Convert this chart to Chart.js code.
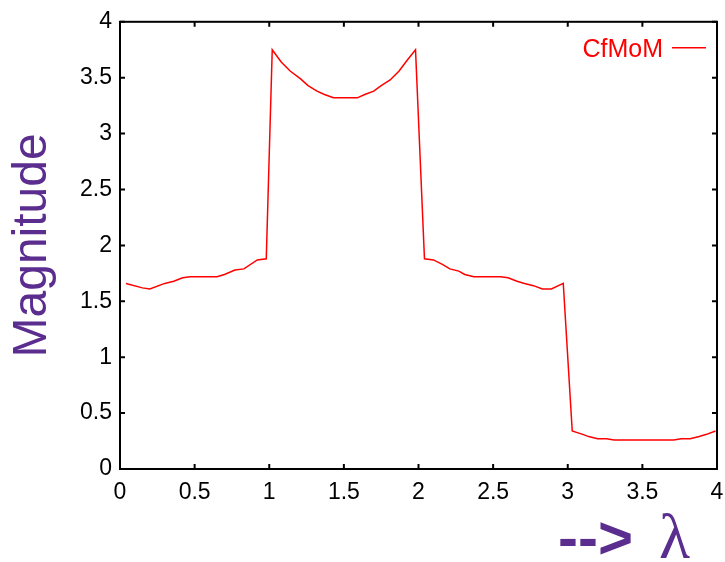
<!DOCTYPE html>
<html>
<head>
<meta charset="utf-8">
<script src="https://cdn.jsdelivr.net/npm/chart.js@4/dist/chart.umd.min.js"></script>
<style>
  html, body { margin: 0; padding: 0; background: #fff; }
  #wrap { width: 725px; height: 562px; }
</style>
</head>
<body>
<div id="wrap"><canvas id="grafico"></canvas></div>
<script>
// datos
const lambdaVals = [
    0.04, 0.15, 0.20, 0.30, 0.36, 0.42, 0.47, 0.65, 0.70, 0.77, 0.83, 0.92, 0.98,
    1.02, 1.08, 1.14, 1.21, 1.26, 1.32, 1.37, 1.43, 1.59, 1.64, 1.70, 1.75, 1.81, 1.87, 1.92, 1.98,
    2.04, 2.10, 2.16, 2.21, 2.27, 2.31, 2.37, 2.55, 2.60, 2.66, 2.71, 2.77, 2.83, 2.89, 2.97,
    3.03, 3.10, 3.14, 3.20, 3.26, 3.31, 3.71, 3.76, 3.82, 3.88, 3.93, 3.99
];
const magnitudes = [
    1.66, 1.62, 1.61, 1.66, 1.68, 1.71, 1.72, 1.72, 1.74, 1.78, 1.79, 1.87, 1.88,
    3.75, 3.64, 3.56, 3.49, 3.43, 3.38, 3.35, 3.32, 3.32, 3.35, 3.38, 3.43, 3.48, 3.56, 3.65, 3.75,
    1.88, 1.87, 1.83, 1.79, 1.77, 1.74, 1.72, 1.72, 1.71, 1.68, 1.66, 1.64, 1.61, 1.61, 1.66,
    0.34, 0.31, 0.29, 0.27, 0.27, 0.26, 0.26, 0.27, 0.27, 0.29, 0.31, 0.34
];
const xTicks = [0, 0.5, 1, 1.5, 2, 2.5, 3, 3.5, 4];
const yTicks = [0, 0.5, 1, 1.5, 2, 2.5, 3, 3.5, 4];
const serieNombre = 'CfMoM';
const flechaX = '-->';
const letraX = '\u03bb';
const tituloY = 'Magnitude';

const puntos = lambdaVals.map((x, i) => ({ x: x, y: magnitudes[i] }));
const fuente = "'Liberation Sans', Arial, sans-serif";
const morado = '#5a2d8e';

// marco, ticks hacia adentro, leyenda y titulo x
const marcoPlugin = {
    id: 'marco',
    afterDraw(chart) {
        const c = chart.ctx;
        const a = chart.chartArea;
        const sx = chart.scales.x;
        const sy = chart.scales.y;
        c.save();
        c.strokeStyle = '#000';
        c.lineWidth = 2;
        c.strokeRect(a.left, a.top, a.right - a.left, a.bottom - a.top);
        c.beginPath();
        xTicks.forEach(v => {
            const px = sx.getPixelForValue(v);
            c.moveTo(px, a.bottom); c.lineTo(px, a.bottom - 5);
            c.moveTo(px, a.top); c.lineTo(px, a.top + 5);
        });
        yTicks.forEach(v => {
            const py = sy.getPixelForValue(v);
            c.moveTo(a.left, py); c.lineTo(a.left + 5, py);
            c.moveTo(a.right, py); c.lineTo(a.right - 5, py);
        });
        c.stroke();

        // leyenda
        const ds = chart.data.datasets[0];
        c.fillStyle = ds.borderColor;
        c.strokeStyle = ds.borderColor;
        c.lineWidth = 1.5;
        c.font = '25px ' + fuente;
        c.textAlign = 'right';
        c.textBaseline = 'middle';
        c.fillText(ds.label, a.right - 54, a.top + 28);
        c.beginPath();
        c.moveTo(a.right - 45, a.top + 26);
        c.lineTo(a.right - 11, a.top + 26);
        c.stroke();

        // titulo eje x
        c.fillStyle = morado;
        c.textBaseline = 'alphabetic';
        c.textAlign = 'left';
        c.font = 'bold 60px ' + fuente;
        c.fillText(flechaX, a.right - 159, chart.height - 4);
        c.font = "64px 'Liberation Serif', 'Times New Roman', serif";
        c.fillText(letraX, a.right - 58, chart.height - 4);
        c.restore();
    }
};

new Chart(document.getElementById('grafico'), {
    type: 'line',
    data: {
        datasets: [{
            label: serieNombre,
            data: puntos,
            borderColor: '#ff0000',
            borderWidth: 1.5,
            pointRadius: 0,
            tension: 0,
            fill: false
        }]
    },
    options: {
        responsive: true,
        maintainAspectRatio: false,
        animation: false,
        layout: { padding: { top: 20, right: 8, left: 0, bottom: 0 } },
        plugins: {
            legend: { display: false },
            tooltip: { enabled: false }
        },
        scales: {
            x: {
                type: 'linear',
                min: 0,
                max: 4,
                afterFit(scale) {
                    scale.height = 93;
                    scale.paddingLeft = 0;
                    scale.paddingRight = 0;
                },
                afterBuildTicks(scale) { scale.ticks = xTicks.map(v => ({ value: v })); },
                grid: { display: false, drawTicks: false },
                border: { display: false },
                ticks: {
                    color: '#000',
                    padding: 10,
                    maxRotation: 0,
                    font: { family: fuente, size: 23 },
                    callback: v => String(v)
                }
            },
            y: {
                min: 0,
                max: 4,
                afterFit(scale) { scale.width = 120; },
                afterBuildTicks(scale) { scale.ticks = yTicks.map(v => ({ value: v })); },
                grid: { display: false, drawTicks: false },
                border: { display: false },
                ticks: {
                    color: '#000',
                    padding: 8,
                    font: { family: fuente, size: 23 },
                    callback: v => String(v)
                },
                title: {
                    display: true,
                    text: tituloY,
                    color: morado,
                    font: { family: fuente, size: 48 },
                    padding: { top: 4, bottom: 0 }
                }
            }
        }
    },
    plugins: [marcoPlugin]
});
</script>
</body>
</html>
